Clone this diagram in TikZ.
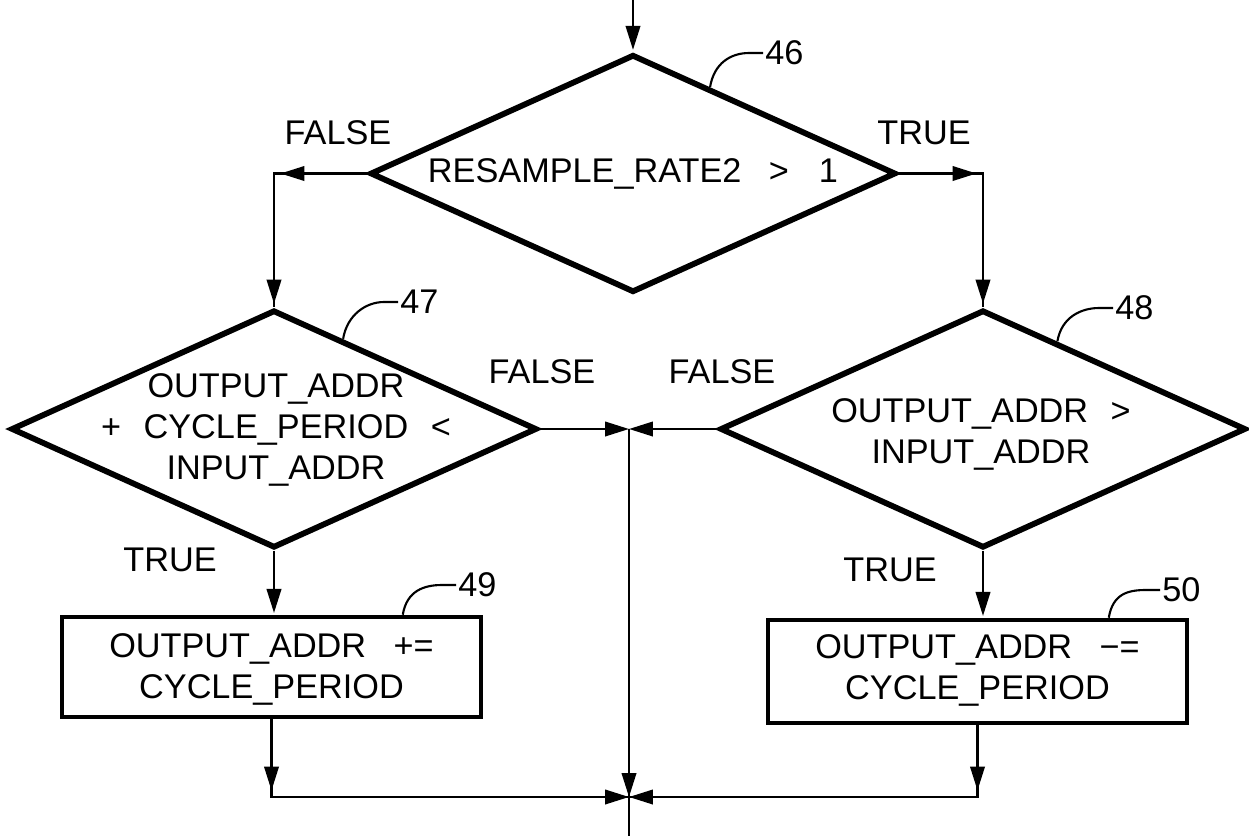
\documentclass[tikz,border=0pt]{standalone}
\usepackage{fontspec}
\setmainfont{Liberation Sans}
\usetikzlibrary{shapes.geometric,arrows.meta,calc}
\begin{document}
\begin{tikzpicture}[x=0.02cm,y=-0.02cm,
  every node/.style={font=\fontsize{19.5}{23.3}\selectfont},
  dia/.style={diamond,draw,line width=3.3pt,minimum width=10.52cm,minimum height=4.76cm,inner sep=0pt,aspect=2.2},
  box/.style={rectangle,draw,line width=2.6pt,inner sep=0pt},
  txt/.style={align=center,inner sep=0pt},
  lbl/.style={inner sep=0pt},
  num/.style={inner sep=0pt,anchor=west},
  conn/.style={line width=1.3pt},
  arr/.style={conn,-{Triangle[length=0.48cm,width=0.29cm]}},
  lead/.style={line width=1.2pt}
]
\useasboundingbox (0,0) rectangle (1249,836);

% shapes
\node[dia] (d46) at (633,173.5) {};
\node[dia] (d47) at (274,429) {};
\node[dia] (d48) at (983,429) {};
\node[box,minimum width=8.38cm,minimum height=2.0cm] (b49) at (271.5,667) {};
\node[box,minimum width=8.38cm,minimum height=2.06cm] (b50) at (977.5,671.5) {};

% texts
\node[txt] (t46) at (633,174) {RESAMPLE\_RATE2\hspace{0.55cm}>\hspace{0.6cm}1};
\node[txt] (t47) at (276,430) {OUTPUT\_ADDR\\+\hspace{0.45cm}CYCLE\_PERIOD\hspace{0.45cm}<\\INPUT\_ADDR};
\node[txt] (t48) at (981,434) {OUTPUT\_ADDR\hspace{0.45cm}>\\INPUT\_ADDR};
\node[txt] (t49) at (271.5,669) {OUTPUT\_ADDR\hspace{0.55cm}+=\\CYCLE\_PERIOD};
\node[txt] (t50) at (977.5,670) {OUTPUT\_ADDR\hspace{0.55cm}−=\\CYCLE\_PERIOD};

\node[lbl] (f1) at (338,133) {FALSE};
\node[lbl] (r1) at (924,133) {TRUE};
\node[lbl] (f2) at (542,372) {FALSE};
\node[lbl] (f3) at (722,372) {FALSE};
\node[lbl] (r2) at (170,560) {TRUE};
\node[lbl] (r3) at (890,570) {TRUE};

\node[num] (n46) at (765,53) {46};
\node[num] (n47) at (400,302) {47};
\node[num] (n48) at (1115,308) {48};
\node[num] (n49) at (458,585) {49};
\node[num] (n50) at (1162,590) {50};

% coordinates
\coordinate (top) at (633,0);
\coordinate (cL) at (d47.north |- d46.west);
\coordinate (cR) at (d48.north |- d46.east);
\coordinate (j1) at (629,429);
\coordinate (j2) at (629,797);
\coordinate (bot) at (629,836);
\coordinate (cBL) at (b49.south |- j2);
\coordinate (cBR) at (b50.south |- j2);

% connectors
\draw[arr,shorten >=1pt] (top) -- (d46.north);
\draw[conn] (d46.west) -- (cL) -- (d47.north);
\draw[arr,shorten >=0.13cm] (d46.west) -- (cL);
\draw[arr,shorten >=2pt] (cL) -- (d47.north);
\draw[conn] (d46.east) -- (cR) -- (d48.north);
\draw[arr,shorten >=0.13cm] (d46.east) -- (cR);
\draw[arr,shorten >=2pt] (cR) -- (d48.north);

\draw[arr] (d47.east) -- (j1);
\draw[arr] (d48.west) -- (j1);
\draw[conn] (j1) -- (bot);
\draw[arr] (j1) -- (j2);

\draw[arr,shorten >=1pt] (d47.south) -- (d47.south |- b49.north);
\draw[arr,shorten >=1pt] (d48.south) -- (d48.south |- b50.north);

\draw[conn] (b49.south) -- (cBL) -- (j2);
\draw[arr,shorten >=0.13cm] (b49.south) -- (cBL);
\draw[arr] (cBL) -- (j2);
\draw[conn] (b50.south) -- (cBR) -- (j2);
\draw[arr,shorten >=0.13cm] (b50.south) -- (cBR);
\draw[arr] (cBR) -- (j2);

% reference leaders
\coordinate (p46) at ($(d46.north)!0.29!(d46.east)$);
\coordinate (p47) at ($(d47.north)!0.26!(d47.east)$);
\coordinate (p48) at ($(d48.north)!0.28!(d48.east)$);
\coordinate (p49) at ($(b49.north west)!0.81!(b49.north east)$);
\coordinate (p50) at ($(b50.north west)!0.81!(b50.north east)$);
\foreach \p/\n in {p46/n46,p47/n47,p48/n48,p49/n49,p50/n50}{
  \draw[lead] (\p) .. controls ($(\p)+(4,-24)$) and ($(\n.west)+(-34,0)$) .. ($(\n.west)+(-16,0)$) -- ($(\n.west)+(-2,0)$);
}
\end{tikzpicture}
\end{document}
